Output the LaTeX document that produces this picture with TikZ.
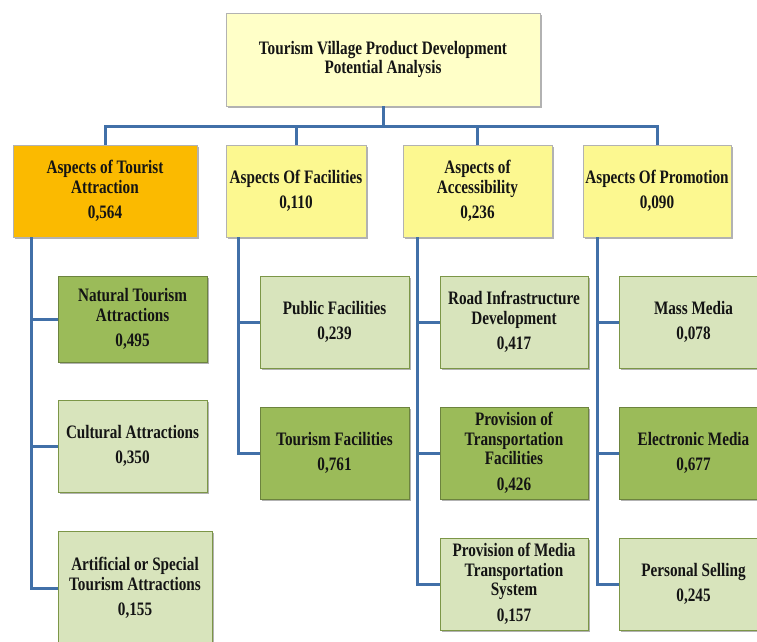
\documentclass[tikz,border=0pt]{standalone}
\usepackage{fontspec}
\usetikzlibrary{shadows}
\newfontfamily\lblfont{Liberation Serif}[FakeStretch=0.8]
\definecolor{topfill}{HTML}{FFFFC8}
\definecolor{aspfill}{HTML}{FCF890}
\definecolor{orgfill}{HTML}{FBBA00}
\definecolor{dkgreen}{HTML}{9BBB59}
\definecolor{ltgreen}{HTML}{D8E4BC}
\definecolor{connc}{HTML}{4170A8}
\definecolor{txtc}{HTML}{141414}
\tikzset{
  box/.style={rectangle, draw=black!30, line width=0.6pt, inner sep=0pt, align=center,
    font=\lblfont\bfseries\fontsize{19}{19.5}\selectfont, text=txtc,
    drop shadow={shadow xshift=1.5pt, shadow yshift=-2pt, opacity=0.3, fill=black}},
  topbox/.style={box, fill=topfill, minimum width=314pt, minimum height=93pt},
  aspbox/.style={box, fill=aspfill, minimum height=92pt},
  dkbox/.style={box, fill=dkgreen, draw=dkgreen!70!black, minimum width=149pt, minimum height=92pt},
  ltbox/.style={box, fill=ltgreen, draw=dkgreen!80!black, minimum width=149pt, minimum height=92pt},
  conn/.style={draw=connc, line width=3pt}
}
\begin{document}
\begin{tikzpicture}[x=1pt,y=-1pt]
\useasboundingbox (0,0) rectangle (757,641);
\fill[white] (0,0) rectangle (757,641);
\clip (0,0) rectangle (757,641);
% top
\node[topbox] (top) at (383,59.5) {Tourism Village Product Development\\Potential Analysis};
% aspects
\node[aspbox, fill=orgfill, minimum width=184pt] (ta) at (105,191) {Aspects of Tourist\\Attraction\\[6pt]0,564};
\node[aspbox, minimum width=140pt] (fa) at (296,191) {Aspects Of Facilities\\[6pt]0,110};
\node[aspbox, minimum width=149pt] (ac) at (477.5,191) {Aspects of\\Accessibility\\[6pt]0,236};
\node[aspbox, minimum width=148pt] (pr) at (657,191) {Aspects Of Promotion\\[6pt]0,090};
% tourist attraction subs
\node[dkbox, minimum height=86pt] (nat) at (132.5,319) {Natural Tourism\\Attractions\\[6pt]0,495};
\node[ltbox] (cul) at (132.5,446) {Cultural Attractions\\[6pt]0,350};
\node[ltbox, minimum width=154pt, minimum height=114pt] (art) at (135,588) {Artificial or Special\\Tourism Attractions\\[6pt]0,155};
% facilities subs
\node[ltbox] (pub) at (334.5,322) {Public Facilities\\[6pt]0,239};
\node[dkbox] (tfa) at (334.5,453) {Tourism Facilities\\[6pt]0,761};
% accessibility subs
\node[ltbox, minimum width=148pt] (road) at (514,322) {Road Infrastructure\\Development\\[6pt]0,417};
\node[dkbox, minimum width=148pt] (prov) at (514,453) {Provision of\\Transportation\\Facilities\\[6pt]0,426};
\node[ltbox, minimum width=148pt] (med) at (514,584) {Provision of Media\\Transportation\\System\\[6pt]0,157};
% promotion subs
\node[ltbox] (mass) at (693.5,322) {Mass Media\\[6pt]0,078};
\node[dkbox] (elec) at (693.5,453) {Electronic Media\\[6pt]0,677};
\node[ltbox] (pers) at (693.5,584) {Personal Selling\\[6pt]0,245};
% connectors
\coordinate (bus) at (0,126);
\draw[conn] (top.south) -- (top.south |- bus);
\draw[conn] (ta.north) -- (ta.north |- bus) -- (pr.north |- bus) -- (pr.north);
\draw[conn] (fa.north) -- (fa.north |- bus);
\draw[conn] (ac.north) -- (ac.north |- bus);
\coordinate (taL) at ([xshift=19pt]ta.south west);
\coordinate (faL) at ([xshift=13pt]fa.south west);
\coordinate (acL) at ([xshift=15pt]ac.south west);
\coordinate (prL) at ([xshift=15pt]pr.south west);
\draw[conn] (taL) |- (nat.west);
\draw[conn] (taL) |- (cul.west);
\draw[conn] (taL) |- (art.west);
\draw[conn] (faL) |- (pub.west);
\draw[conn] (faL) |- (tfa.west);
\draw[conn] (acL) |- (road.west);
\draw[conn] (acL) |- (prov.west);
\draw[conn] (acL) |- (med.west);
\draw[conn] (prL) |- (mass.west);
\draw[conn] (prL) |- (elec.west);
\draw[conn] (prL) |- (pers.west);
\end{tikzpicture}
\end{document}
